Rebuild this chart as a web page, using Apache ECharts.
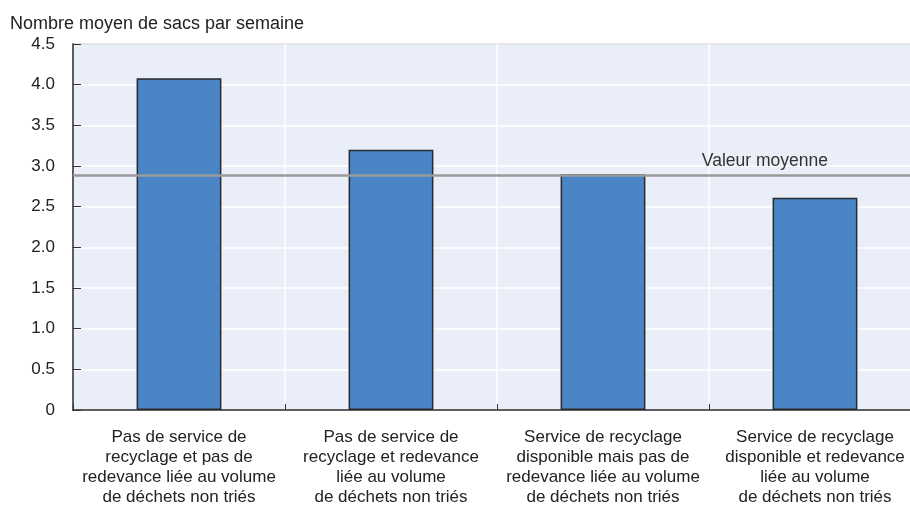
<!DOCTYPE html>
<html><head><meta charset="utf-8">
<script src="https://cdn.jsdelivr.net/npm/echarts@6/dist/echarts.min.js"></script>
<style>html,body{margin:0;padding:0;background:#fff}#c{width:910px;height:516px}</style>
</head><body><div id="c"></div>
<script>
const categories = [
  "Pas de service de\nrecyclage et pas de\nredevance liée au volume\nde déchets non triés",
  "Pas de service de\nrecyclage et redevance\nliée au volume\nde déchets non triés",
  "Service de recyclage\ndisponible mais pas de\nredevance liée au volume\nde déchets non triés",
  "Service de recyclage\ndisponible et redevance\nliée au volume\nde déchets non triés"
];
const values = [4.08, 3.20, 2.90, 2.61];
const meanValue = 2.89;
const meanLabel = "Valeur moyenne";
const yTitle = "Nombre moyen de sacs par semaine";

const FONT = "'Liberation Sans Narrow','Arial Narrow','Liberation Sans',Arial,sans-serif";
const chart = echarts.init(document.getElementById('c'));
chart.setOption({
  animation: false,
  textStyle: {fontFamily: FONT},
  title: {text: yTitle, left: 10, top: 15, padding: 0, textStyle: {fontFamily: FONT, fontSize: 18, fontWeight: 'normal', color: '#222'}},
  grid: {left: 73, width: 848, top: 44, height: 366, outerBoundsMode: 'none', containLabel: false, show: true, backgroundColor: '#EAEEF8', borderColor: '#333', borderWidth: 1.2},
  xAxis: {
    type: 'category', data: categories,
    axisLine: {lineStyle: {color: '#333', width: 1.5}},
    axisTick: {show: true, inside: true, length: 6, lineStyle: {color: '#333'}},
    splitLine: {show: true, lineStyle: {color: '#fff', width: 1.5}},
    axisLabel: {fontFamily: FONT, fontSize: 17, color: '#222', lineHeight: 20, margin: 17, interval: 0}
  },
  yAxis: {
    type: 'value', min: 0, max: 4.5, interval: 0.5,
    axisLine: {show: true, lineStyle: {color: '#333', width: 1.5}},
    axisTick: {show: true, inside: true, length: 8, lineStyle: {color: '#333'}},
    splitLine: {show: true, lineStyle: {color: '#fff', width: 1.5}},
    axisLabel: {fontFamily: FONT, fontSize: 17, color: '#222', margin: 18,
      formatter: v => v === 0 ? '0' : v.toFixed(1)}
  },
  series: [{
    type: 'bar', data: values, barWidth: '40%',
    itemStyle: {color: '#4A86C6', borderColor: '#2a2a2a', borderWidth: 1.5},
    z: 2,
    markLine: {
      silent: true, symbol: 'none', z: 3,
      lineStyle: {color: '#9a9a9a', width: 2.5, type: 'solid'},
      label: {show: true, position: 'insideEndTop', formatter: meanLabel, fontFamily: FONT, fontSize: 17.5, color: '#333', offset: [-88, 0], distance: 5},
      data: [{yAxis: meanValue}]
    }
  }]
});
</script></body></html>
